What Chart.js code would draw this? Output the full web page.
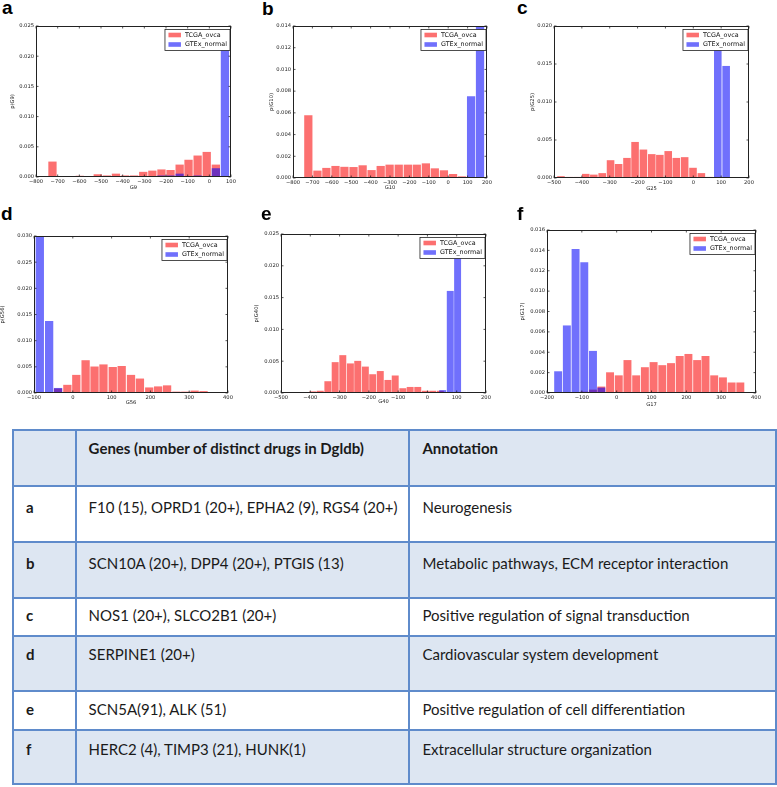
<!DOCTYPE html>
<html><head><meta charset="utf-8">
<script src="https://cdn.jsdelivr.net/npm/chart.js@4.4.0/dist/chart.umd.min.js"></script>
<style>
html,body{margin:0;padding:0;background:#fff;width:777px;height:787px;overflow:hidden;}
body{position:relative;}
.panel{position:absolute;}
.lbl{position:absolute;font-family:'Liberation Sans',Arial,sans-serif;font-weight:bold;font-size:19px;line-height:19px;color:#000;}
table{position:absolute;left:12px;top:429px;border-collapse:collapse;font-family:Lato,'Open Sans',sans-serif;font-size:15px;color:#1a1a1a;table-layout:fixed;}
td{border:2px solid #5f8bcb;vertical-align:top;padding:0 0 0 12px;line-height:17px;background:#fff;white-space:nowrap;}
tr.sh td{background:#dde6f2;}
td.h{font-weight:bold;}
</style></head><body>
<script>
// ---------- data ----------
const seriesNames = ['TCGA_ovca', 'GTEx_normal'];
const panelLetters = ['a', 'b', 'c', 'd', 'e', 'f'];
const xTitles = ['G9', 'G10', 'G25', 'G56', 'G40', 'G17'];
const yTitles = ['p(G9)', 'p(G10)', 'p(G25)', 'p(G56)', 'p(G40)', 'p(G17)'];

const aTcgaX = [-724,-682,-640,-598,-556,-515,-473,-431,-389,-347,-305,-263,-221,-179,-137,-96,-54,-12,30];
const aTcgaY = [0.0025,0.0001,0.0001,0.00015,0.0001,0.0004,0.0002,0.0005,0.0002,0.0002,0.0008,0.001,0.0012,0.0011,0.002,0.0028,0.0035,0.0041,0.002];
const aGtexX = [-221,-179,-137,-54,30,72];
const aGtexY = [0.0002,0.0002,0.0005,0.0002,0.0014,0.023];

const bTcgaX = [-721,-674,-628,-581,-535,-488,-441,-395,-348,-302,-255,-208,-162,-115,-69,-22,25,71];
const bTcgaY = [0.00575,0.00065,0.0009,0.00108,0.001,0.00098,0.00114,0.0007,0.00108,0.0012,0.0012,0.0012,0.0012,0.00132,0.00086,0.00068,0.00034,0.00012];
const bGtexX = [118,164];
const bGtexY = [0.0075,0.02];

const cTcgaX = [-475,-445,-416,-386,-357,-327,-297,-268,-238,-209,-179,-149,-120,-90,-61,-31,-1,29,58,88];
const cTcgaY = [0.0002,0.0001,0.0001,0.0005,0.0004,0.0006,0.0023,0.0018,0.0026,0.0047,0.0037,0.0031,0.003,0.0035,0.0026,0.0027,0.0013,0.0006,0.0001,0.0001];
const cGtexX = [88,118];
const cGtexY = [0.018,0.0147];

const dTcgaX = [-38,-14,9,33,56,79,103,126,150,173,197,220,243,267,290,314,337,360];
const dTcgaY = [0.0008,0.0015,0.0034,0.0062,0.005,0.0054,0.0049,0.0051,0.0034,0.0027,0.001,0.0012,0.0014,0.0002,0.0002,0.0004,0.0003,0.0001];
const dGtexX = [-85,-61,-38];
const dGtexY = [0.034,0.0137,0.0009];

const eTcgaX = [-417,-391,-366,-340,-315,-289,-263,-238,-212,-187,-161,-135,-110,-84,-59,-33,-7,18,44];
const eTcgaY = [0.0001,0.0002,0.0003,0.0018,0.0048,0.0059,0.0046,0.005,0.0041,0.0029,0.0034,0.002,0.0027,0.0007,0.0009,0.0009,0.0003,0.0003,0.0003];
const eGtexX = [52,78,103];
const eGtexY = [0.0004,0.016,0.023];

const fTcgaX = [-93,-68,-44,-19,6,31,56,81,106,131,156,181,206,231,255,280,305,330,355];
const fTcgaY = [0.0001,0.0003,0.0006,0.002,0.0017,0.0032,0.0017,0.0025,0.003,0.0027,0.0029,0.0036,0.0038,0.0032,0.0036,0.0017,0.0015,0.001,0.001];
const fGtexX = [-168,-143,-118,-93,-68,-44];
const fGtexY = [0.0021,0.0066,0.0141,0.0128,0.0041,0.0005];

const binWidths = [41.9, 46.6, 29.6, 23.4, 25.6, 24.9];
const xRanges = [[-800,100],[-800,200],[-500,200],[-100,400],[-500,200],[-200,400]];
const yMaxes = [0.025, 0.014, 0.020, 0.030, 0.025, 0.016];
const yStepsArr = [0.005, 0.002, 0.005, 0.005, 0.005, 0.002];

const tableHeaders = ['', 'Genes (number of distinct drugs in Dgldb)', 'Annotation'];
const tableRowLabels = ['a', 'b', 'c', 'd', 'e', 'f'];
const tableGenes = ['F10 (15), OPRD1 (20+), EPHA2 (9), RGS4 (20+)', 'SCN10A (20+), DPP4 (20+), PTGIS (13)', 'NOS1 (20+), SLCO2B1 (20+)', 'SERPINE1 (20+)', 'SCN5A(91), ALK (51)', 'HERC2 (4), TIMP3 (21), HUNK(1)'];
const tableAnnotations = ['Neurogenesis', 'Metabolic pathways, ECM receptor interaction', 'Positive regulation of signal transduction', 'Cardiovascular system development', 'Positive regulation of cell differentiation', 'Extracellular structure organization'];

// ---------- layout / style ----------
const tcgaX = [aTcgaX, bTcgaX, cTcgaX, dTcgaX, eTcgaX, fTcgaX];
const tcgaY = [aTcgaY, bTcgaY, cTcgaY, dTcgaY, eTcgaY, fTcgaY];
const gtexX = [aGtexX, bGtexX, cGtexX, dGtexX, eGtexX, fGtexX];
const gtexY = [aGtexY, bGtexY, cGtexY, dGtexY, eGtexY, fGtexY];
const plotBoxes = [
  {L:36, T:26, W:195, H:151},
  {L:293, T:26, W:194, H:152},
  {L:554, T:26, W:195, H:152},
  {L:34, T:236, W:194, H:157},
  {L:281, T:234, W:205, H:159},
  {L:547, T:230, W:209, H:163}
];
const yTitleOffs = [23, 21.6, 21.6, 31.6, 24.6, 24];
const xTitleOffs = [10.7, 10, 11, 9.6, 8.3, 11.3];
const letterPos = [[2,-2],[262,-1],[517,-2],[1,204],[261,204],[517,204]];
const Y_AXIS_W = 36, PAD_T = 8, PAD_R = 8, X_AXIS_H = 26, BAR_FRACTION = 0.84;
const RED = 'rgba(250,0,0,0.56)', BLUE = 'rgba(0,0,250,0.56)';

Chart.defaults.font.family = '"DejaVu Sans", sans-serif';
Chart.defaults.color = '#222';

const mplPlugin = {
  id: 'mplBox',
  afterDatasetsDraw(chart) {
    const {ctx, chartArea: a, scales: {x, y}} = chart;
    ctx.save();
    ctx.strokeStyle = '#111'; ctx.lineWidth = 0.7;
    ctx.beginPath();
    x.ticks.forEach(t => { const px = x.getPixelForValue(t.value); ctx.moveTo(px, a.bottom); ctx.lineTo(px, a.bottom - 2.5); ctx.moveTo(px, a.top); ctx.lineTo(px, a.top + 2.5); });
    y.ticks.forEach(t => { const py = y.getPixelForValue(t.value); ctx.moveTo(a.left, py); ctx.lineTo(a.left + 2.5, py); ctx.moveTo(a.right, py); ctx.lineTo(a.right - 2.5, py); });
    ctx.stroke();
    const ds = chart.data.datasets;
    ctx.font = '6.4px "DejaVu Sans"';
    const tw = Math.max(...ds.map(d => ctx.measureText(d.label).width));
    const lw = 20 + tw + 3, lh = 21;
    const lx = a.right - 1 - lw, ly = a.top + 3.5;
    ctx.fillStyle = '#fff'; ctx.fillRect(lx, ly, lw, lh);
    ctx.lineWidth = 0.8; ctx.strokeStyle = '#222'; ctx.strokeRect(lx, ly, lw, lh);
    ds.forEach((d, i) => {
      const cy = ly + 5.5 + i * 9.5;
      ctx.fillStyle = d.backgroundColor; ctx.fillRect(lx + 3.5, cy - 2.3, 12.5, 4.6);
      ctx.fillStyle = '#111'; ctx.textBaseline = 'middle'; ctx.textAlign = 'left';
      ctx.fillText(d.label, lx + 20, cy + 0.3);
    });
    ctx.lineWidth = 1; ctx.strokeStyle = '#222';
    ctx.strokeRect(a.left + 0.5, a.top + 0.5, a.right - a.left - 1, a.bottom - a.top - 1);
    ctx.restore();
  }
};

const fmtX = v => (v < 0 ? '\u2212' + Math.abs(v) : String(v));

panelLetters.forEach((letter, k) => {
  const p = plotBoxes[k];
  const lab = document.createElement('div');
  lab.className = 'lbl'; lab.textContent = letter;
  lab.style.left = letterPos[k][0] + 'px'; lab.style.top = letterPos[k][1] + 'px';
  document.body.appendChild(lab);

  const div = document.createElement('div');
  div.className = 'panel';
  Object.assign(div.style, {
    left: (p.L - Y_AXIS_W) + 'px', top: (p.T - PAD_T) + 'px',
    width: (p.W + Y_AXIS_W + PAD_R) + 'px', height: (p.H + PAD_T + X_AXIS_H) + 'px'
  });
  const c = document.createElement('canvas');
  div.appendChild(c); document.body.appendChild(div);
  const [xMin, xMax] = xRanges[k];
  const bt = binWidths[k] * p.W / (xMax - xMin) * BAR_FRACTION;
  new Chart(c, {
    type: 'bar',
    data: { datasets: [
      { label: seriesNames[0], data: tcgaX[k].map((x, i) => ({x, y: tcgaY[k][i]})), backgroundColor: RED, barThickness: bt, stack: 's', order: 1, borderWidth: 0 },
      { label: seriesNames[1], data: gtexX[k].map((x, i) => ({x, y: gtexY[k][i]})), backgroundColor: BLUE, barThickness: bt, stack: 's', order: 0, borderWidth: 0 }
    ]},
    options: {
      responsive: true, maintainAspectRatio: false, animation: false, devicePixelRatio: 1,
      layout: { padding: { left: 0, top: PAD_T, right: PAD_R, bottom: 0 } },
      plugins: { legend: { display: false }, tooltip: { enabled: false } },
      scales: {
        x: {
          type: 'linear', min: xMin, max: xMax, offset: false,
          grid: { display: false, drawTicks: false, tickLength: 0 },
          border: { display: false },
          ticks: { stepSize: 100, autoSkip: false, maxRotation: 0, padding: 2, font: { size: 5.2 }, callback: v => fmtX(v) },
          title: { display: true, text: xTitles[k], font: { size: 5.2 }, padding: { top: 0, bottom: 23 - xTitleOffs[k] } },
          afterFit: s => { s.height = X_AXIS_H; s.paddingLeft = 0; s.paddingRight = 0; }
        },
        y: {
          type: 'linear', min: 0, max: yMaxes[k], stacked: false,
          grid: { display: false, drawTicks: false, tickLength: 0 },
          border: { display: false },
          ticks: { stepSize: yStepsArr[k], padding: 2, font: { size: 5.2 }, callback: v => Number(v).toFixed(3) },
          title: { display: true, text: yTitles[k], font: { size: 5.2 }, padding: { top: 33 - yTitleOffs[k], bottom: 0 } },
          afterFit: s => { s.width = Y_AXIS_W; s.paddingTop = 0; s.paddingBottom = 0; }
        }
      }
    },
    plugins: [mplPlugin]
  });
});

// ---------- table ----------
const rowHeights = [56, 56, 56, 38, 55, 39, 54];
const rowPadTop = [9, 12, 12, 8, 9, 9, 10];
const table = document.createElement('table');
const cg = document.createElement('colgroup');
[63, 334, 367].forEach(w => { const col = document.createElement('col'); col.style.width = w + 'px'; cg.appendChild(col); });
table.appendChild(cg);
function addRow(cells, idx, shaded, bold) {
  const tr = document.createElement('tr');
  if (shaded) tr.className = 'sh';
  tr.style.height = rowHeights[idx] + 'px';
  cells.forEach((txt, j) => {
    const td = document.createElement('td');
    td.textContent = txt;
    td.style.paddingTop = rowPadTop[idx] + 'px';
    if (bold || j === 0) td.className = 'h';
    tr.appendChild(td);
  });
  table.appendChild(tr);
}
addRow(tableHeaders, 0, true, true);
tableRowLabels.forEach((l, i) => addRow([l, tableGenes[i], tableAnnotations[i]], i + 1, i % 2 === 1, false));
document.body.appendChild(table);
</script>
</body></html>
